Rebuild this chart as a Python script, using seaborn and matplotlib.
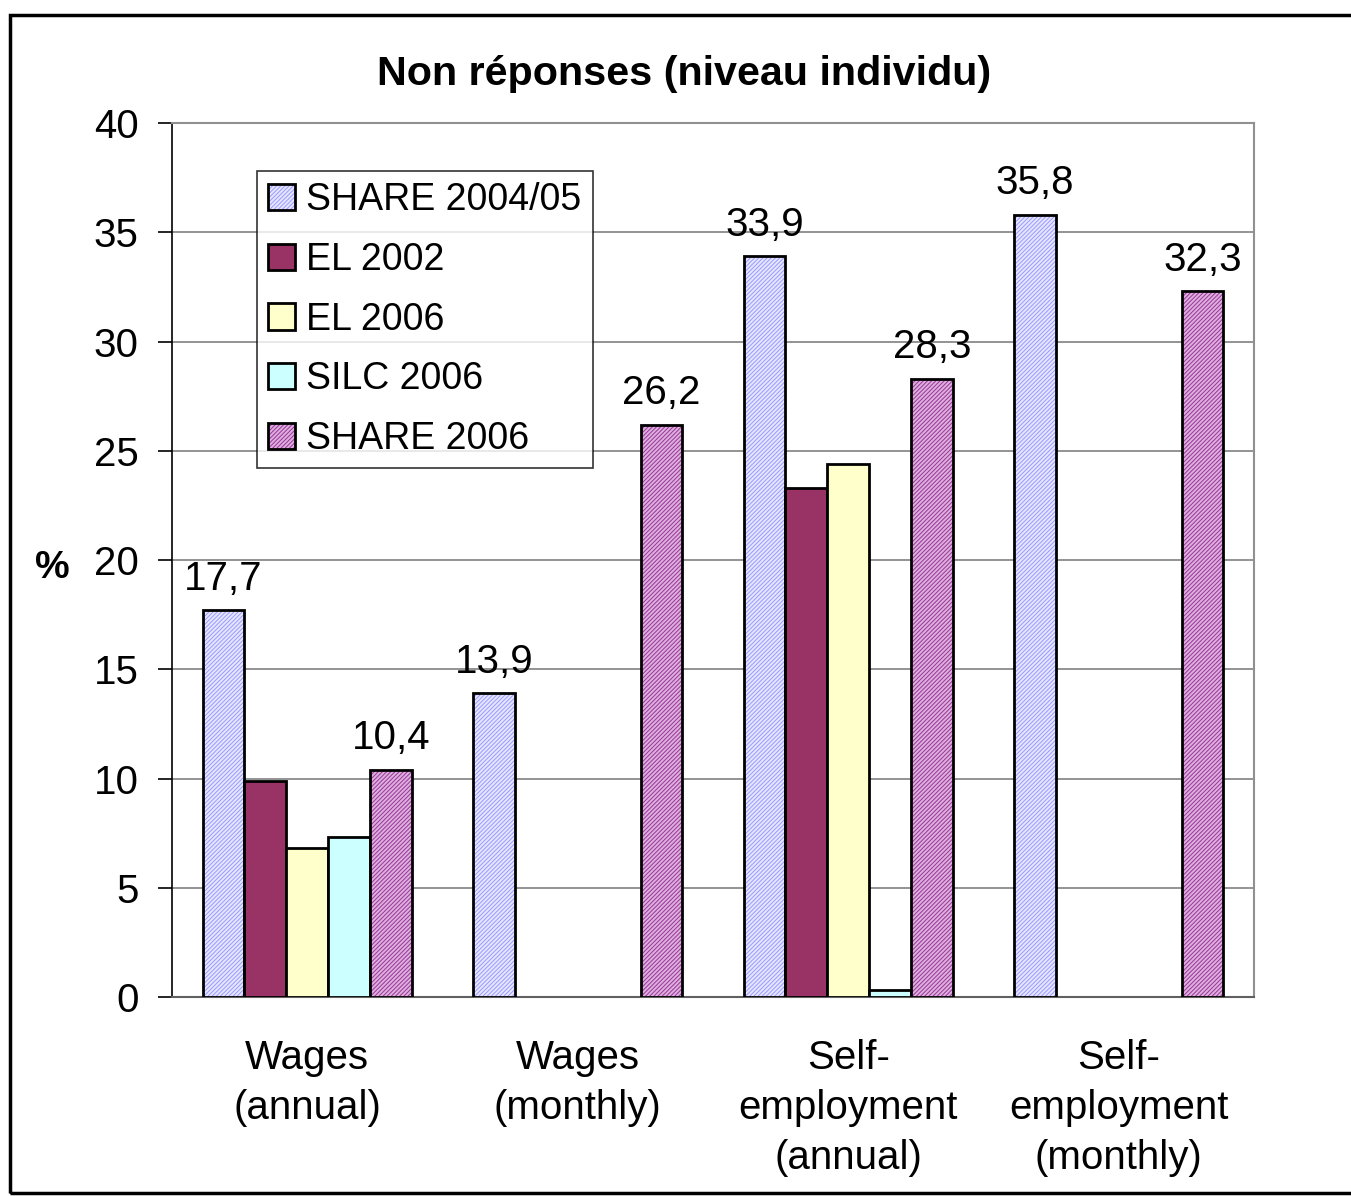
import numpy as np
import pandas as pd
import matplotlib
matplotlib.use('Agg')
import matplotlib.pyplot as plt
from matplotlib.patches import Rectangle, Patch
from matplotlib.legend_handler import HandlerTuple
import seaborn as sns

# Chart data
categories = ['Wages\n(annual)', 'Wages\n(monthly)',
              'Self-\nemployment\n(annual)', 'Self-\nemployment\n(monthly)']
series = ['SHARE 2004/05', 'EL 2002', 'EL 2006', 'SILC 2006', 'SHARE 2006']
share_0405 = [17.7, 13.9, 33.9, 35.8]
el_2002 = [9.9, np.nan, 23.3, np.nan]
el_2006 = [6.8, np.nan, 24.4, np.nan]
silc_2006 = [7.3, np.nan, 0.3, np.nan]
share_2006 = [10.4, 26.2, 28.3, 32.3]
yticks = [0, 5, 10, 15, 20, 25, 30, 35, 40]

face = {'SHARE 2004/05': '#E6E6FF', 'EL 2002': '#993366', 'EL 2006': '#FFFFCC',
        'SILC 2006': '#CCFFFF', 'SHARE 2006': '#DDB0DD'}
hatch_col = {'SHARE 2004/05': '#9999FF', 'SHARE 2006': '#993399'}
HATCH = '////////'

rows = []
for name, vals in zip(series, [share_0405, el_2002, el_2006, silc_2006, share_2006]):
    for cat, v in zip(categories, vals):
        rows.append({'cat': cat, 'series': name, 'value': v})
df = pd.DataFrame(rows).dropna()

sns.set_theme(style='white')
plt.rcParams['font.family'] = ['Liberation Sans', 'DejaVu Sans']
plt.rcParams['hatch.linewidth'] = 0.7
for key in ['text.color', 'axes.labelcolor', 'xtick.color', 'ytick.color']:
    plt.rcParams[key] = 'black'

fig = plt.figure(figsize=(13.51, 11.96), dpi=100)
ax = fig.add_axes([172 / 1351, 1 - 997 / 1196, 1082 / 1351, 874 / 1196])

sns.barplot(data=df, x='cat', y='value', hue='series', order=categories,
            hue_order=series, palette=face, width=0.774, dodge=True,
            edgecolor='black', linewidth=2, saturation=1, legend=False,
            errorbar=None, ax=ax, zorder=3)

# hatched series: hatch drawn in colour, outline redrawn on top
for cont, name in zip(ax.containers, series):
    if name in hatch_col:
        for bar in cont:
            bar.set_edgecolor(hatch_col[name])
            bar.set_hatch(HATCH)
            bar.set_linewidth(0)
            ax.add_patch(Rectangle(bar.get_xy(), bar.get_width(), bar.get_height(),
                                   facecolor='none', edgecolor='black', linewidth=2,
                                   zorder=4))
        labels = [f'{b.get_height():.1f}'.replace('.', ',') for b in cont]
        ax.bar_label(cont, labels=labels, padding=9, fontsize=29, zorder=5)

ax.set_ylim(0, 40)
ax.set_xlim(-0.5, 3.5)
ax.set_yticks(yticks)
ax.set_yticklabels([str(t) for t in yticks])
ax.set_xticks(range(4))
ax.set_xticklabels(categories, linespacing=1.4)
ax.set_xticks([-0.5, 0.5, 1.5, 2.5, 3.5], minor=True)
ax.tick_params(axis='x', which='major', length=0, pad=30, labelsize=29)
ax.tick_params(axis='x', which='minor', length=10, width=1.2, color='black', direction='out')
ax.tick_params(axis='y', length=10, width=1.2, color='black', direction='out',
               pad=14, labelsize=29, left=True)
ax.yaxis.grid(True, color='#808080', linewidth=1.2, zorder=0)
ax.set_axisbelow(True)
ax.set_xlabel('')
ax.set_ylabel('')
for side in ['top', 'right']:
    ax.spines[side].set_color('#909090')
    ax.spines[side].set_linewidth(1.5)
ax.spines['left'].set_color('black')
ax.spines['left'].set_linewidth(1.2)
ax.spines['bottom'].set_color('#606060')
ax.spines['bottom'].set_linewidth(1.5)

handles = []
for name in series:
    if name in hatch_col:
        handles.append((Patch(facecolor=face[name], edgecolor=hatch_col[name],
                              hatch=HATCH, linewidth=0),
                        Patch(facecolor='none', edgecolor='black', linewidth=2)))
    else:
        handles.append(Patch(facecolor=face[name], edgecolor='black', linewidth=2))
leg = ax.legend(handles, series, loc='upper left',
                handler_map={tuple: HandlerTuple(ndivide=1)},
                bbox_to_anchor=((257 - 172) / 1082, (997 - 171) / 874),
                fontsize=27, frameon=True, fancybox=False, borderpad=0.3,
                handlelength=0.7, handleheight=0.7, handletextpad=0.32,
                labelspacing=0.63, borderaxespad=0)
leg.get_frame().set_edgecolor('black')
leg.get_frame().set_linewidth(1.2)
leg.set_zorder(6)

fig.text(684 / 1351, 1 - 74 / 1196, 'Non réponses (niveau individu)',
         ha='center', va='center', fontsize=29.7, fontweight='bold')
fig.text(52 / 1351, 1 - 568 / 1196, '%', ha='center', va='center',
         fontsize=28, fontweight='bold')

# outer border
fig.add_artist(Rectangle((9.5 / 1351, 3 / 1196), 1.05, 1 - 14.5 / 1196 - 3 / 1196,
                         transform=fig.transFigure, facecolor='none',
                         edgecolor='black', linewidth=2.5))

fig.savefig('out.png', dpi=100, facecolor='white')
